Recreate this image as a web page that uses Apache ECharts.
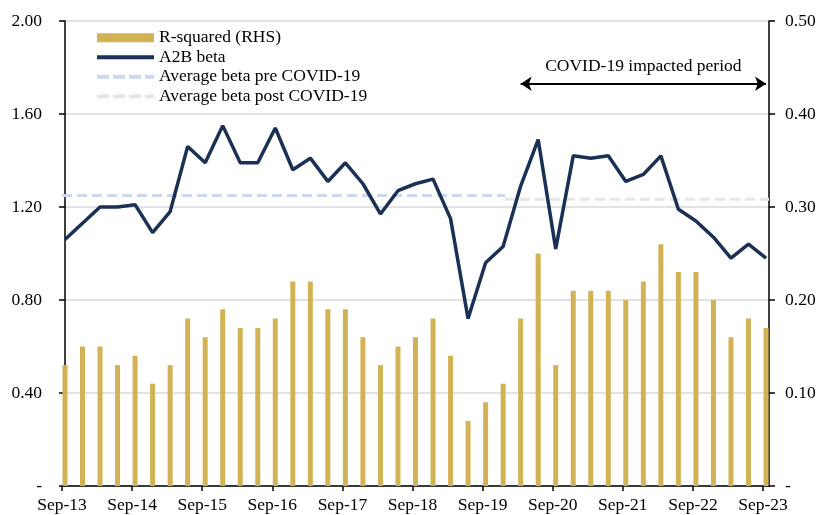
<!DOCTYPE html>
<html>
<head>
<meta charset="utf-8">
<script src="https://cdn.jsdelivr.net/npm/echarts@6/dist/echarts.min.js"></script>
<style>
  html, body { margin: 0; padding: 0; background: #fff; }
  #main { width: 816px; height: 515px; }
</style>
</head>
<body>
<div id="main"></div>
<script>
// quarterly points, Sep-13 .. Sep-23 (41 quarters)
var tickLabels = ['Sep-13', 'Sep-14', 'Sep-15', 'Sep-16', 'Sep-17', 'Sep-18',
                  'Sep-19', 'Sep-20', 'Sep-21', 'Sep-22', 'Sep-23'];

// R-squared, right axis
var rSquared = [0.13, 0.15, 0.15, 0.13, 0.14, 0.11, 0.13, 0.18, 0.16, 0.19,
                0.17, 0.17, 0.18, 0.22, 0.22, 0.19, 0.19, 0.16, 0.13, 0.15,
                0.16, 0.18, 0.14, 0.07, 0.09, 0.11, 0.18, 0.25, 0.13, 0.21,
                0.21, 0.21, 0.20, 0.22, 0.26, 0.23, 0.23, 0.20, 0.16, 0.18,
                0.17];

// A2B beta, left axis
var beta = [1.06, 1.13, 1.20, 1.20, 1.21, 1.09, 1.18, 1.46, 1.39, 1.55,
            1.39, 1.39, 1.54, 1.36, 1.41, 1.31, 1.39, 1.30, 1.17, 1.27,
            1.30, 1.32, 1.15, 0.72, 0.96, 1.03, 1.29, 1.49, 1.02, 1.42,
            1.41, 1.42, 1.31, 1.34, 1.42, 1.19, 1.14, 1.07, 0.98, 1.04,
            0.98];

var avgPre = 1.25;
var avgPost = 1.233;
var covidSplit = 25.1;      // quarter index where pre/post averages meet
var covidStart = 26;        // Mar-20
var covidEnd = 40;          // Sep-23
var arrowLevel = 1.73;      // beta-axis height of the annotation arrow

// x axis is a value axis over quarter index; ticks sit a touch left of the points
var shift = 0.17;
var xMin = -shift;
var xMax = 40 + shift;
var tickPos = tickLabels.map(function (l, k) { return k * 4 - shift; });

var FONT = 'Liberation Serif';
var NAVY = '#1b3055';
var GOLD = '#d1b355';
var PRE = '#cdd7ef';
var POST = '#e6e6e6';

function toPairs(arr) {
    return arr.map(function (v, i) { return [i, v]; });
}

var myChart = echarts.init(document.getElementById('main'));

var option = {
    animation: false,
    textStyle: { fontFamily: FONT },
    grid: {
        left: 62, right: 47, top: 21, bottom: 29,
        outerBoundsMode: 'none'
    },
    legend: {
        orient: 'vertical',
        left: 95,
        top: 28,
        padding: 0,
        itemGap: 0,
        itemWidth: 57,
        itemHeight: 9,
        textStyle: { fontFamily: FONT, fontSize: 17.5, color: '#000', lineHeight: 19.5 },
        data: [
            { name: 'R-squared (RHS)', icon: 'rect' },
            { name: 'A2B beta', itemStyle: { opacity: 0 },
              lineStyle: { color: NAVY, width: 4 } },
            { name: 'Average beta pre COVID-19', itemStyle: { opacity: 0 },
              lineStyle: { color: PRE, width: 4, type: [12, 4] } },
            { name: 'Average beta post COVID-19', itemStyle: { opacity: 0 },
              lineStyle: { color: POST, width: 4, type: [12, 4] } }
        ]
    },
    xAxis: {
        type: 'value',
        min: xMin,
        max: xMax,
        axisLine: { show: true, onZero: false, lineStyle: { color: '#000', width: 1.5 } },
        axisTick: {
            show: true, length: 5, customValues: tickPos,
            lineStyle: { color: '#000', width: 1.5 }
        },
        axisLabel: {
            customValues: tickPos,
            margin: 10,
            color: '#000',
            fontFamily: FONT,
            fontSize: 17.5,
            formatter: function (v) {
                return tickLabels[Math.round((v + shift) / 4)];
            }
        },
        splitLine: { show: false }
    },
    yAxis: [
        {
            type: 'value',
            min: 0, max: 2, interval: 0.4,
            axisLine: { show: true, lineStyle: { color: '#000', width: 1.5 } },
            axisTick: { show: true, length: 6, lineStyle: { color: '#000', width: 1.5 } },
            axisLabel: {
                margin: 20, color: '#000', fontFamily: FONT, fontSize: 17.5,
                formatter: function (v) { return v === 0 ? '-' : v.toFixed(2); }
            },
            splitLine: { show: true, lineStyle: { color: '#d9d9d9', width: 1.5 } }
        },
        {
            type: 'value',
            position: 'right',
            min: 0, max: 0.5, interval: 0.1,
            axisLine: { show: true, lineStyle: { color: '#000', width: 1.5 } },
            axisTick: { show: true, length: 6, lineStyle: { color: '#000', width: 1.5 } },
            axisLabel: {
                margin: 16, color: '#000', fontFamily: FONT, fontSize: 17.5,
                formatter: function (v) { return v === 0 ? '-' : v.toFixed(2); }
            },
            splitLine: { show: false }
        }
    ],
    series: [
        {
            name: 'R-squared (RHS)',
            type: 'bar',
            yAxisIndex: 1,
            barWidth: 5,
            itemStyle: { color: GOLD },
            data: toPairs(rSquared)
        },
        {
            name: 'Average beta pre COVID-19',
            type: 'line',
            symbol: 'none',
            lineStyle: { color: PRE, width: 3, type: [10, 5] },
            itemStyle: { color: PRE },
            data: [[xMin, avgPre], [covidSplit, avgPre]]
        },
        {
            name: 'Average beta post COVID-19',
            type: 'line',
            symbol: 'none',
            lineStyle: { color: POST, width: 3, type: [10, 5] },
            itemStyle: { color: POST },
            data: [[covidSplit, avgPost], [xMax, avgPost]]
        },
        {
            name: 'A2B beta',
            type: 'line',
            symbol: 'none',
            z: 5,
            lineStyle: { color: NAVY, width: 3.5 },
            itemStyle: { color: NAVY },
            data: toPairs(beta),
            markLine: {
                silent: true,
                symbol: ['arrow', 'arrow'],
                symbolSize: 11,
                lineStyle: { color: '#000', width: 2, type: 'solid' },
                label: {
                    show: true,
                    position: 'insideMiddleTop',
                    distance: 8,
                    formatter: 'COVID-19 impacted period',
                    color: '#000',
                    fontFamily: FONT,
                    fontSize: 17.5
                },
                data: [[
                    { coord: [covidStart, arrowLevel] },
                    { coord: [covidEnd, arrowLevel] }
                ]]
            }
        }
    ]
};

myChart.setOption(option);
</script>
</body>
</html>
